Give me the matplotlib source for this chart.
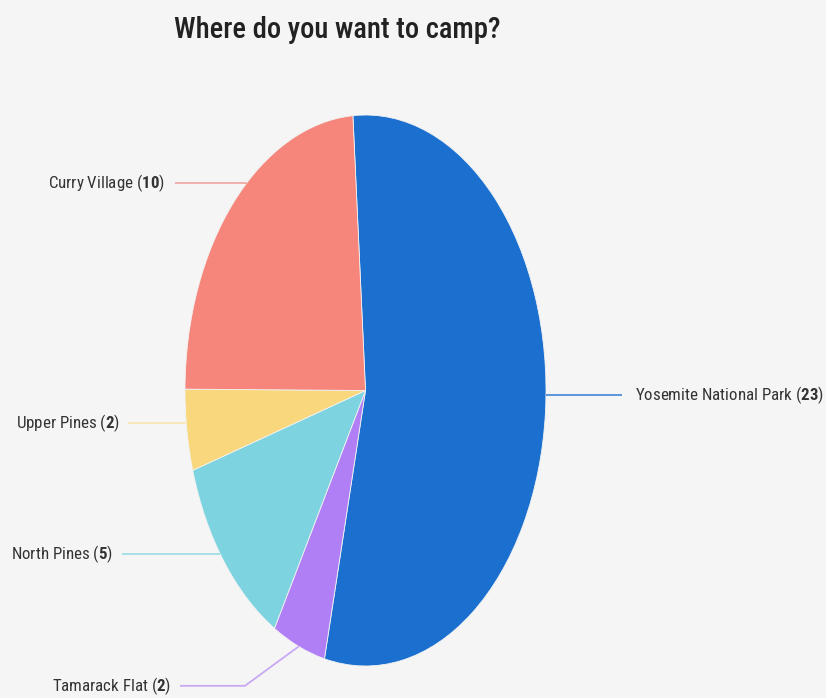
import matplotlib
matplotlib.use("Agg")
import matplotlib.pyplot as plt
import numpy as np

# ---- data ----
labels = ["Yosemite National Park", "Tamarack Flat", "North Pines", "Upper Pines", "Curry Village"]
counts = [23, 2, 5, 2, 10]
colors = ["#1a6fcf", "#b07ff5", "#7dd3df", "#f8d77d", "#f6867b"]
line_colors = ["#4d8fd8", "#c9a9f2", "#9fdde6", "#f9e6b4", "#eeaaa6"]
title = "Where do you want to camp?"

# ---- layout (axis units: pie radius = 1) ----
label_y = [-0.016, -1.072, -0.593, -0.118, 0.753]   # height of each leader line
line_end_x = [1.42, -1.028, -1.349, -1.316, -1.055]  # outer end of the leader line
text_x = [1.495, -1.075, -1.40, -1.36, -1.11]
elbow_x = [None, -0.668, None, None, None]

FONT = "Roboto Condensed"
BG = "#f5f5f5"
TXT = "#333333"

plt.rcParams["mathtext.fontset"] = "custom"
plt.rcParams["mathtext.rm"] = FONT
plt.rcParams["mathtext.bf"] = FONT + ":bold"

fig = plt.figure(figsize=(8.26, 6.98), dpi=100, facecolor=BG)
W, H = 826, 698
ax = fig.add_axes([185 / W, 1 - 666 / H, 361 / W, 551 / H])
ax.set_facecolor(BG)

wedges, _ = ax.pie(counts, colors=colors, startangle=94, counterclock=False,
                   radius=1, wedgeprops=dict(linewidth=0.6, edgecolor="#f2f2f2"))
ax.set_aspect("auto")
ax.set_xlim(-1, 1)
ax.set_ylim(-1, 1)
ax.axis("off")

total = sum(counts)
start = 94.0
for i, (lab, c) in enumerate(zip(labels, counts)):
    span = 360.0 * c / total
    mid = np.deg2rad(start - span / 2)
    start -= span
    ly = label_y[i]
    if elbow_x[i] is not None:
        ex, ey = np.cos(mid), np.sin(mid)
        xs = [ex, elbow_x[i], line_end_x[i]]
        ys = [ey, ly, ly]
    else:
        s = np.clip(ly, -1, 1)
        edge = np.sqrt(1 - s ** 2) * (1 if line_end_x[i] > 0 else -1)
        xs = [edge, line_end_x[i]]
        ys = [ly, ly]
    ax.plot(xs, ys, color=line_colors[i], lw=1.3, clip_on=False, solid_capstyle="butt")

    txt = lab + r" ($\mathbf{" + str(c) + r"}$)"
    ax.text(text_x[i], ly, txt, fontsize=12.2, family=FONT, color=TXT,
            ha="left" if text_x[i] > 0 else "right", va="center", clip_on=False)

fig.text(337 / W, 1 - 30 / H, title, fontsize=20.6, family=FONT, fontweight="medium",
         color="#222222", ha="center", va="center")

fig.savefig("out.png", facecolor=BG)
